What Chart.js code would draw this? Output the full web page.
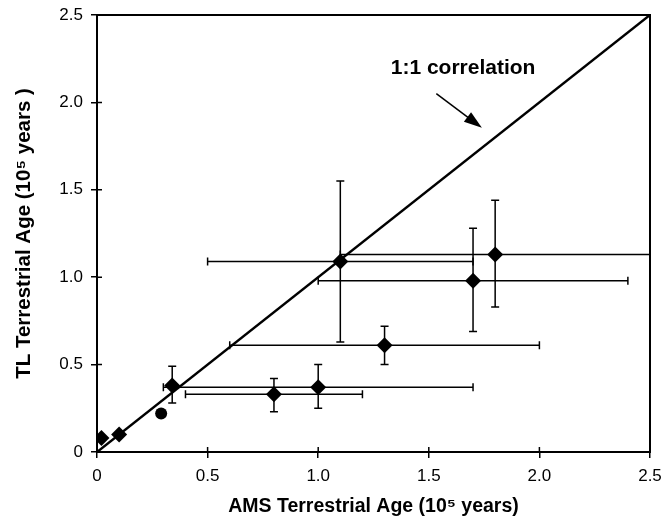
<!DOCTYPE html>
<html>
<head>
<meta charset="utf-8">
<script src="https://cdn.jsdelivr.net/npm/chart.js@4/dist/chart.umd.min.js"></script>
<style>
  html, body { margin: 0; padding: 0; background: #fff; }
  #wrap { width: 665px; height: 522px; }
</style>
</head>
<body>
<div id="wrap"><canvas id="ages"></canvas></div>
<script>
// AMS vs TL terrestrial ages, units of 10^5 years
const ams     = [0.02, 0.10, 0.29, 0.34, 0.80, 1.00, 1.10, 1.30, 1.70, 1.80];
const tl      = [0.08, 0.10, 0.22, 0.38, 0.33, 0.37, 1.09, 0.61, 0.98, 1.13];
const amsLow  = [null, null, null, null, 0.40, 0.30, 0.50, 0.60, 1.00, 1.10];
const amsHigh = [null, null, null, null, 1.20, 1.70, 1.70, 2.00, 2.40, 2.50];
const tlLow   = [null, null, null, 0.28, 0.23, 0.25, 0.63, 0.50, 0.69, 0.83];
const tlHigh  = [null, null, null, 0.49, 0.42, 0.50, 1.55, 0.72, 1.28, 1.44];
const markers = ['rectRot', 'rectRot', 'circle', 'rectRot', 'rectRot', 'rectRot', 'rectRot', 'rectRot', 'rectRot', 'rectRot'];
const oneToOne = [0, 2.5];
const tickValues = [0, 0.5, 1.0, 1.5, 2.0, 2.5];

const points = ams.map((x, i) => ({ x: x, y: tl[i] }));
const FONT = '"Liberation Sans", Arial, sans-serif';

const extras = {
  id: 'extras',
  beforeDatasetsDraw(chart) {
    const { ctx, scales: { x, y } } = chart;
    const cap = 4;
    ctx.save();
    ctx.strokeStyle = '#000';
    ctx.lineWidth = 1.5;
    ams.forEach((v, i) => {
      const px = x.getPixelForValue(v);
      const py = y.getPixelForValue(tl[i]);
      ctx.beginPath();
      if (amsLow[i] !== null) {
        const l = x.getPixelForValue(amsLow[i]);
        const r = x.getPixelForValue(amsHigh[i]);
        ctx.moveTo(l, py); ctx.lineTo(r, py);
        ctx.moveTo(l, py - cap); ctx.lineTo(l, py + cap);
        ctx.moveTo(r, py - cap); ctx.lineTo(r, py + cap);
      }
      if (tlLow[i] !== null) {
        const b = y.getPixelForValue(tlLow[i]);
        const t = y.getPixelForValue(tlHigh[i]);
        ctx.moveTo(px, b); ctx.lineTo(px, t);
        ctx.moveTo(px - cap, b); ctx.lineTo(px + cap, b);
        ctx.moveTo(px - cap, t); ctx.lineTo(px + cap, t);
      }
      ctx.stroke();
    });
    ctx.restore();
  },
  afterDraw(chart) {
    const { ctx, chartArea: a, scales: { x, y } } = chart;
    ctx.save();
    // frame
    ctx.strokeStyle = '#000';
    ctx.lineWidth = 2;
    ctx.strokeRect(a.left, a.top, a.right - a.left, a.bottom - a.top);
    // inner half of the ticks
    ctx.lineWidth = 1.5;
    ctx.beginPath();
    tickValues.forEach(v => {
      const px = x.getPixelForValue(v);
      ctx.moveTo(px, a.bottom); ctx.lineTo(px, a.bottom - 5);
      const py = y.getPixelForValue(v);
      ctx.moveTo(a.left, py); ctx.lineTo(a.left + 5, py);
    });
    ctx.stroke();
    // label + arrow
    ctx.fillStyle = '#000';
    ctx.font = 'bold 21px ' + FONT;
    ctx.textAlign = 'center';
    ctx.textBaseline = 'middle';
    ctx.fillText('1:1 correlation', x.getPixelForValue(1.655), y.getPixelForValue(2.195));
    const x0 = x.getPixelForValue(1.534), y0 = y.getPixelForValue(2.05);
    const x1 = x.getPixelForValue(1.74), y1 = y.getPixelForValue(1.855);
    const ang = Math.atan2(y1 - y0, x1 - x0);
    ctx.lineWidth = 1.5;
    ctx.beginPath();
    ctx.moveTo(x0, y0);
    ctx.lineTo(x1 - 12 * Math.cos(ang), y1 - 12 * Math.sin(ang));
    ctx.stroke();
    ctx.beginPath();
    ctx.moveTo(x1, y1);
    ctx.lineTo(x1 - 18 * Math.cos(ang) + 6 * Math.sin(ang), y1 - 18 * Math.sin(ang) - 6 * Math.cos(ang));
    ctx.lineTo(x1 - 18 * Math.cos(ang) - 6 * Math.sin(ang), y1 - 18 * Math.sin(ang) + 6 * Math.cos(ang));
    ctx.closePath();
    ctx.fill();
    ctx.restore();
  }
};

new Chart(document.getElementById('ages'), {
  type: 'scatter',
  data: {
    datasets: [
      {
        type: 'line',
        data: oneToOne.map(v => ({ x: v, y: v })),
        borderColor: '#000',
        borderWidth: 2.5,
        pointRadius: 0,
        fill: false
      },
      {
        data: points,
        pointStyle: markers,
        pointRadius: markers.map(m => m === 'circle' ? 6 : 8),
        backgroundColor: '#000',
        borderColor: '#000',
        borderWidth: 0
      }
    ]
  },
  options: {
    responsive: true,
    maintainAspectRatio: false,
    animation: false,
    layout: { padding: { top: 15, right: 15, left: 0, bottom: 0 } },
    plugins: { legend: { display: false }, tooltip: { enabled: false } },
    scales: {
      x: {
        type: 'linear',
        min: 0, max: 2.5,
        afterFit: s => { s.height = 70; s.paddingLeft = 0; s.paddingRight = 0; },
        afterBuildTicks: s => { s.ticks = tickValues.map(v => ({ value: v })); },
        border: { display: true, color: '#000', width: 2 },
        grid: { drawOnChartArea: false, color: '#000', lineWidth: 1.5, tickLength: 6 },
        ticks: {
          color: '#000',
          font: { family: FONT, size: 17 },
          padding: 8,
          maxRotation: 0,
          callback: v => v === 0 ? '0' : v.toFixed(1)
        },
        title: {
          display: true,
          text: 'AMS Terrestrial Age (10\u2075 years)',
          color: '#000',
          font: { family: FONT, size: 19.5, weight: 'bold' },
          padding: { top: 2, bottom: 4 }
        }
      },
      y: {
        type: 'linear',
        min: 0, max: 2.5,
        afterFit: s => { s.width = 97; s.paddingTop = 0; s.paddingBottom = 0; },
        afterBuildTicks: s => { s.ticks = tickValues.map(v => ({ value: v })); },
        border: { display: true, color: '#000', width: 2 },
        grid: { drawOnChartArea: false, color: '#000', lineWidth: 1.5, tickLength: 6 },
        ticks: {
          color: '#000',
          font: { family: FONT, size: 17 },
          padding: 8,
          callback: v => v === 0 ? '0' : v.toFixed(1)
        },
        title: {
          display: true,
          text: 'TL Terrestrial Age (10\u2075 years )',
          color: '#000',
          font: { family: FONT, size: 20.5, weight: 'bold' },
          padding: { top: 12, bottom: 4 }
        }
      }
    }
  },
  plugins: [extras]
});
</script>
</body>
</html>
